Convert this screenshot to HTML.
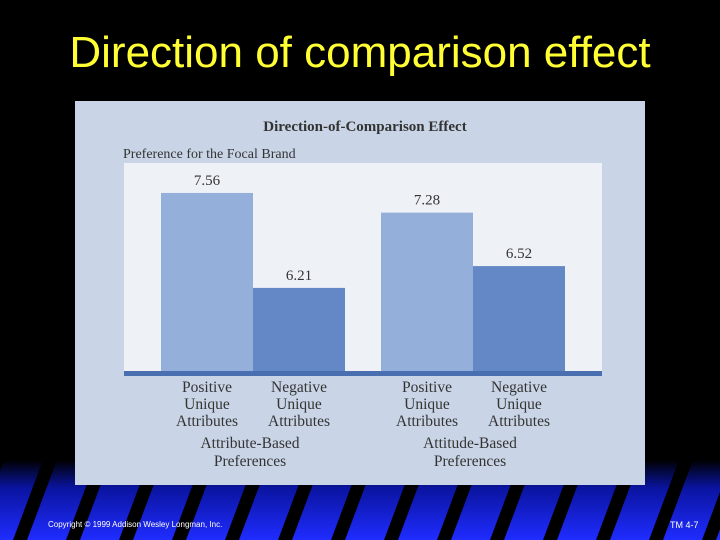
<!DOCTYPE html>
<html><head><meta charset="utf-8"><style>
html,body{margin:0;padding:0;background:#000;}
#root{position:relative;width:720px;height:540px;overflow:hidden;background:#000;font-family:"Liberation Sans",sans-serif;}
#title{position:absolute;left:0;width:720px;top:28px;text-align:center;color:#ffff33;font-size:44px;}
svg{position:absolute;left:0;top:0;}
.foot{position:absolute;color:#fff;font-size:8px;top:520px;}
</style></head><body>
<div id="root">
<svg width="720" height="540">
<defs><linearGradient id="bg" x1="0" y1="0" x2="0" y2="1">
<stop offset="0" stop-color="#000"/><stop offset="0.35" stop-color="#0a14a0"/><stop offset="1" stop-color="#1f2cff"/></linearGradient></defs>
<rect x="0" y="460" width="720" height="80" fill="url(#bg)"/>
<g id="stripes"></g>
</svg>
<div id="title">Direction of comparison effect</div>
<svg width="720" height="540" id="chart"></svg>
<div class="foot" style="left:48px">Copyright © 1999 Addison Wesley Longman, Inc.</div>
<div class="foot" style="left:670px;font-size:9px">TM 4-7</div>
</div>
<script>
const categories=["Positive Unique Attributes","Negative Unique Attributes","Positive Unique Attributes","Negative Unique Attributes"];
const values=[7.56,6.21,7.28,6.52];
const groups=["Attribute-Based Preferences","Attitude-Based Preferences"];
const yDomain=[5,8];
const NS="http://www.w3.org/2000/svg";
function mk(p,t,a,txt){const e=document.createElementNS(NS,t);for(const k in a)e.setAttribute(k,a[k]);if(txt!=null)e.textContent=txt;p.appendChild(e);return e;}
const sg=document.getElementById('stripes');
for(let x=-40;x<760;x+=53){
 const s=mk(sg,'polygon',{points:`${x+30},460 ${x+44},460 ${x+14},540 ${x},540`,fill:'#000'});
 
 
}
const c=document.getElementById('chart');
const serif='"Liberation Serif",serif';
const panel=mk(c,'rect',{x:75,y:101,width:570,height:384,fill:'#c9d5e6'});


const plot=mk(c,'rect',{x:124,y:163,width:478,height:210,fill:'#eef2f7'});


const t=mk(c,'text',{x:365,y:131,'text-anchor':'middle','font-family':serif,'font-size':15,'font-weight':'bold',fill:'#333'},'Direction-of-Comparison Effect');


const yt=mk(c,'text',{x:123,y:158,'font-family':serif,'font-size':14,fill:'#333'},'Preference for the Focal Brand');


const y0=373,y1=162;
function yScale(v){return y0-(v-yDomain[0])/(yDomain[1]-yDomain[0])*(y0-y1);}
const xs=[161,253,381,473],bw=92;
const fills=['#94afda','#6488c6','#94afda','#6488c6'];
values.forEach((v,i)=>{
 const r=mk(c,'rect',{x:xs[i],y:yScale(v),width:bw,height:y0-yScale(v),fill:fills[i]});
 
 
 const l=mk(c,'text',{x:xs[i]+bw/2,y:yScale(v)-8,'text-anchor':'middle','font-family':serif,'font-size':15,fill:'#333'},v.toFixed(2));
 
 
 const words=categories[i].split(' ');
 words.forEach((w,j)=>{
  const e=mk(c,'text',{x:xs[i]+bw/2,y:392+j*17,'text-anchor':'middle','font-family':serif,'font-size':15.5,fill:'#333'},w);
  
  
 });
});
const base=mk(c,'rect',{x:124,y:371,width:478,height:5,fill:'#4a6fb0'});


groups.forEach((g,i)=>{
 const cx=xs[i*2]+bw;
 const p=g.split(' ');
 p.forEach((w,j)=>{
  const e=mk(c,'text',{x:cx-3,y:448+j*18,'text-anchor':'middle','font-family':serif,'font-size':15.5,fill:'#333'},w);
  
  
 });
});
</script>
</body></html>
